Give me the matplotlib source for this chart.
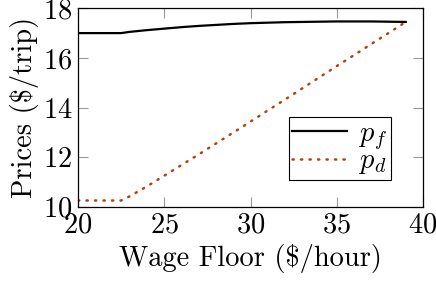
import matplotlib
matplotlib.use('Agg')
import matplotlib.pyplot as plt
import numpy as np

# wage floor ($/hour) and resulting prices ($/trip)
wage = [20, 21, 22, 22.5, 23, 24, 25, 26, 27, 28, 29, 30, 31, 32, 33, 34, 35, 36, 37, 38, 39]
p_f = [17.0, 17.0, 17.0, 17.0, 17.05, 17.12, 17.18, 17.24, 17.29, 17.33, 17.37, 17.4,
       17.42, 17.44, 17.45, 17.46, 17.47, 17.47, 17.47, 17.46, 17.45]
p_d = [10.25, 10.25, 10.25, 10.25, 10.42, 10.82, 11.25, 11.68, 12.11, 12.55, 12.99, 13.43,
       13.88, 14.32, 14.77, 15.22, 15.67, 16.11, 16.56, 17.0, 17.45]

plt.rcParams['font.family'] = 'serif'
plt.rcParams['font.serif'] = ['cmr10']
plt.rcParams['mathtext.fontset'] = 'cm'
plt.rcParams['axes.formatter.use_mathtext'] = True
fs = 20.5

fig = plt.figure(figsize=(4.36, 2.87), dpi=100)
ax = fig.add_axes([78/436, 1-206.7/287, (423-78)/436, (206.7-8.3)/287])

ax.plot(wage, p_f, '-', color='black', lw=1.6, label=r'$p_f$')
ax.plot(wage, p_d, color='#b5420c', lw=1.8, dashes=(0.5, 2.9),
        dash_capstyle='round', label=r'$p_d$')

ax.set_xlim(20, 40)
ax.set_ylim(10, 18)
ax.set_xticks([20, 25, 30, 35, 40])
ax.set_yticks([10, 12, 14, 16, 18])
ax.tick_params(direction='in', length=7, width=0.8, color='#999999',
               top=True, right=True, labelsize=fs, pad=4)
for s in ax.spines.values():
    s.set_linewidth(0.9)

ax.set_xlabel(r'Wage Floor (\$/hour)', fontsize=fs, labelpad=4)
ax.set_ylabel(r'Prices (\$/trip)', fontsize=fs, labelpad=3)

leg = ax.legend(loc='lower right', bbox_to_anchor=(0.907, 0.135), fancybox=False,
                edgecolor='black', framealpha=1, fontsize=fs, handlelength=1.9,
                borderpad=0.12, labelspacing=-0.12, handletextpad=0.45,
                borderaxespad=0)
leg.get_frame().set_linewidth(0.8)

plt.savefig('out.png', dpi=100)
plt.close()
